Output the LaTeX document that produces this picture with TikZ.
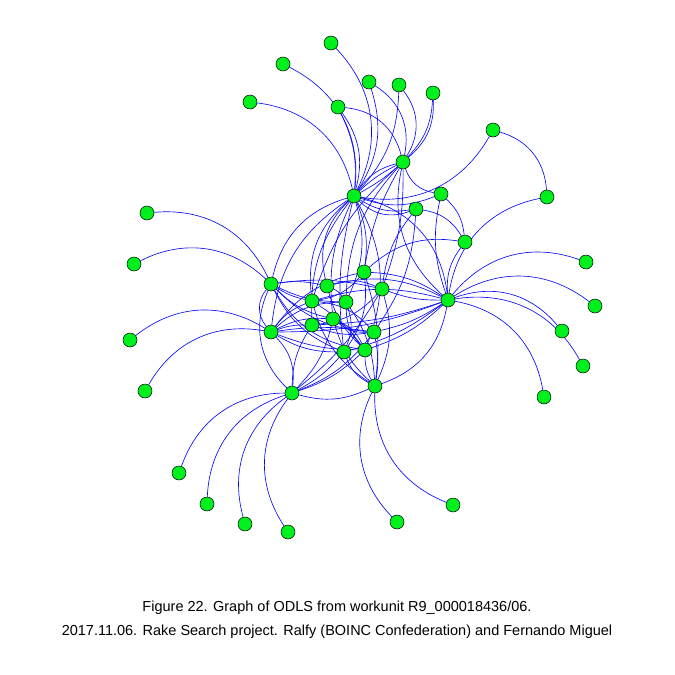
\documentclass[tikz,border=0pt]{standalone}
\usepackage{fontspec}
\setmainfont{Liberation Sans}
\pgfdeclarelayer{bg}
\pgfsetlayers{bg,main}
\definecolor{vgreen}{RGB}{0,240,30}
\definecolor{eblue}{RGB}{10,10,250}
\begin{document}
\begin{tikzpicture}[x=1pt,y=-1pt,
  vtx/.style={circle,draw=black,line width=0.5pt,fill=vgreen,minimum size=14pt,inner sep=0pt},
  edge/.style={draw=eblue,line width=0.65pt},
  bl/.style={bend left=#1}, bl/.default=35,
  br/.style={bend right=#1}, br/.default=35]
\useasboundingbox (0,0) rectangle (675,675);
% hubs
\node[vtx] (H1) at (354,196) {};
\node[vtx] (H2) at (403,162) {};
\node[vtx] (H3) at (448,300) {};
\node[vtx] (H4) at (271,284) {};
\node[vtx] (H5) at (271,332) {};
\node[vtx] (H6) at (292,393) {};
\node[vtx] (H7) at (375,386) {};
% centre
\node[vtx] (C1) at (364,272) {};
\node[vtx] (C2) at (382,289) {};
\node[vtx] (C3) at (327,286) {};
\node[vtx] (C4) at (312,301) {};
\node[vtx] (C5) at (346,302) {};
\node[vtx] (C6) at (333,319) {};
\node[vtx] (C7) at (312,325) {};
\node[vtx] (C8) at (374,332) {};
\node[vtx] (C9) at (344,352) {};
\node[vtx] (C10) at (365,350) {};
\node[vtx] (M1) at (441,194) {};
\node[vtx] (M2) at (416,209) {};
\node[vtx] (M3) at (465,242) {};
% top leaves
\node[vtx] (L1) at (331,43) {};
\node[vtx] (L2) at (283,64) {};
\node[vtx] (L3) at (250,102) {};
\node[vtx] (L4) at (369,82) {};
\node[vtx] (L5) at (338,107) {};
\node[vtx] (L6) at (399,85) {};
\node[vtx] (L7) at (433,93) {};
\node[vtx] (L8) at (493,130) {};
\node[vtx] (L9) at (547,197) {};
% left leaves
\node[vtx] (W1) at (147,213) {};
\node[vtx] (W2) at (134,264) {};
\node[vtx] (W3) at (130,340) {};
\node[vtx] (W4) at (145,391) {};
% bottom leaves
\node[vtx] (B1) at (179,473) {};
\node[vtx] (B2) at (207,504) {};
\node[vtx] (B3) at (245,524) {};
\node[vtx] (B4) at (288,532) {};
\node[vtx] (B5) at (397,522) {};
\node[vtx] (B6) at (453,505) {};
% right leaves
\node[vtx] (R1) at (586,262) {};
\node[vtx] (R2) at (595,306) {};
\node[vtx] (R3) at (562,331) {};
\node[vtx] (R4) at (583,366) {};
\node[vtx] (R5) at (544,397) {};
% caption
\node (cap1) at (337,608) {\fontsize{14.5}{16}\selectfont Figure 22. Graph of ODLS from workunit R9\_000018436/06.};
\node (cap2) at (337,632) {\fontsize{14.5}{16}\selectfont 2017.11.06. Rake Search project. Ralfy (BOINC Confederation) and Fernando Miguel};

\begin{pgfonlayer}{bg}
% leaf edges
\path[edge] (L1) to[bl] (H1);
\path[edge] (L2) to[bl] (H1);
\path[edge] (L3) to[bl] (H1);
\path[edge] (L4) to[bl=25] (H1);
\path[edge] (L4) to[bl] (H2);
\path[edge] (L5) to[bl=15] (H1);
\path[edge] (L5) to[bl=25] (H1);
\path[edge] (L5) to[bl] (H2);
\path[edge] (L6) to[bl] (H2);
\path[edge] (L6) to[bl=20] (H1);
\path[edge] (L7) to[bl=20] (H2);
\path[edge] (L7) to[bl=26] (H2);
\path[edge] (L8) to[bl] (H1);
\path[edge] (L8) to[bl] (L9);
\path[edge] (H3) to[bl] (L9);
\path[edge] (W1) to[bl] (H4);
\path[edge] (W2) to[bl] (H4);
\path[edge] (W3) to[bl] (H5);
\path[edge] (W4) to[bl] (H5);
\path[edge] (B1) to[bl] (H6);
\path[edge] (B2) to[bl] (H6);
\path[edge] (B3) to[bl] (H6);
\path[edge] (B4) to[bl] (H6);
\path[edge] (B5) to[bl] (H7);
\path[edge] (B6) to[bl] (H7);
\path[edge] (H3) to[bl] (R1);
\path[edge] (H3) to[bl] (R2);
\path[edge] (H3) to[bl] (R3);
\path[edge] (H3) to[bl] (R4);
\path[edge] (H3) to[bl] (R5);
% hub 1
\path[edge] (H1) to[bl=8] (H2);
\path[edge] (H1) to[br=6] (H2);
\path[edge] (H1) to[bl=20] (H2);
\path[edge] (H1) to[br=20] (M1);
\path[edge] (H1) to[br=20] (M2);
\path[edge] (H1) to[br=32] (M2);
\path[edge] (H1) to[bl] (H3);
\path[edge] (H1) to[br=30] (H4);
\path[edge] (H1) to[br=25] (H5);
\path[edge] (H1) to[br=30] (C3);
\path[edge] (H1) to[br=28] (C4);
\path[edge] (H1) to[br=20] (C7);
\path[edge] (H1) to[br=15] (C6);
\path[edge] (H1) to[br=10] (C9);
\path[edge] (H1) to[bl=15] (C1);
\path[edge] (H1) to[bl=20] (C5);
\path[edge] (H1) to[bl=25] (C10);
% hub 2
\path[edge] (H2) to[br=10] (C1);
\path[edge] (H2) to[bl=10] (C2);
\path[edge] (H2) to[br=20] (C5);
\path[edge] (H2) to[br=30] (M1);
\path[edge] (H2) to[br=30] (H3);
\path[edge] (H2) to[br=15] (C4);
% middle right
\path[edge] (M1) to[bl=20] (M3);
\path[edge] (M2) to[bl=25] (M3);
\path[edge] (M1) to[br=15] (H3);
\path[edge] (M2) to[br=15] (C2);
\path[edge] (M3) to[br=20] (H3);
\path[edge] (M3) to[br=25] (C1);
\path[edge] (M2) to[bl=15] (C8);
% hub 3
\path[edge] (H3) to[br=15] (C1);
\path[edge] (H3) to[bl=10] (C2);
\path[edge] (H3) to[bl=10] (C8);
\path[edge] (H3) to[bl=12] (C10);
\path[edge] (H3) to[bl=10] (C9);
\path[edge] (H3) to[br=15] (C4);
\path[edge] (H3) to[bl=8] (C7);
\path[edge] (H3) to[bl=10] (H5);
\path[edge] (H3) to[bl=30] (H7);
\path[edge] (H3) to[br=20] (C3);
% hub 4
\path[edge] (H4) to[bl=10] (C3);
\path[edge] (H4) to[br=10] (C4);
\path[edge] (H4) to[br=12] (C5);
\path[edge] (H4) to[br=15] (C6);
\path[edge] (H4) to[br=20] (C8);
\path[edge] (H4) to[br=25] (C10);
\path[edge] (H4) to[br=20] (C9);
\path[edge] (H4) to[bl=10] (C2);
\path[edge] (H4) to[br=40] (H5);
\path[edge] (H4) to[br=35] (H6);
% hub 5
\path[edge] (H5) to[bl=15] (C4);
\path[edge] (H5) to[bl=10] (C7);
\path[edge] (H5) to[bl=15] (C6);
\path[edge] (H5) to[bl=20] (C5);
\path[edge] (H5) to[br=15] (C9);
\path[edge] (H5) to[br=10] (C10);
\path[edge] (H5) to[bl=20] (C1);
\path[edge] (H5) to[bl=25] (H6);
\path[edge] (H5) to[bl=8] (C8);
% hub 6
\path[edge] (H6) to[br=15] (C6);
\path[edge] (H6) to[br=10] (C9);
\path[edge] (H6) to[br=12] (C10);
\path[edge] (H6) to[br=15] (C8);
\path[edge] (H6) to[br=20] (H7);
\path[edge] (H6) to[br=10] (C2);
\path[edge] (H6) to[bl=15] (C7);
% hub 7
\path[edge] (H7) to[br=10] (C8);
\path[edge] (H7) to[bl=15] (C10);
\path[edge] (H7) to[bl=20] (C9);
\path[edge] (H7) to[br=15] (C5);
\path[edge] (H7) to[br=12] (C1);
\path[edge] (H7) to[br=20] (C2);
\path[edge] (H7) to[bl=20] (C4);
\path[edge] (H7) to[bl=15] (C6);
% centre to centre
\path[edge] (C3) to[bl=15] (C5);
\path[edge] (C3) to[br=15] (C10);
\path[edge] (C4) to[bl=10] (C10);
\path[edge] (C4) to[bl=20] (C8);
\path[edge] (C5) to[bl=20] (C9);
\path[edge] (C1) to[bl=20] (C9);
\path[edge] (C2) to[bl=20] (C7);
\path[edge] (C6) to[bl=20] (C10);
\path[edge] (C7) to[br=15] (C8);
\path[edge] (C3) to[bl=20] (C2);
\path[edge] (C4) to[br=20] (C1);
\path[edge] (C6) to[br=20] (C8);
\path[edge] (C5) to[br=20] (C10);
\end{pgfonlayer}
\end{tikzpicture}
\end{document}
